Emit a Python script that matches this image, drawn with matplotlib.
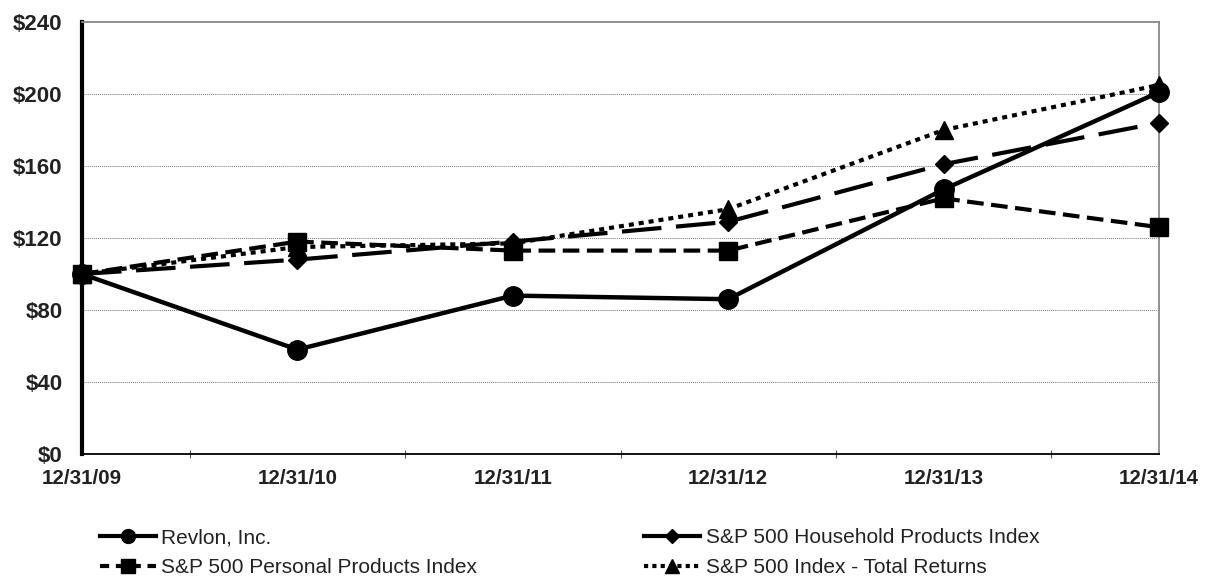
import matplotlib
matplotlib.use("Agg")
import matplotlib.pyplot as plt
from matplotlib.lines import Line2D
from matplotlib.ticker import FixedLocator, FuncFormatter

dates = ["12/31/09", "12/31/10", "12/31/11", "12/31/12", "12/31/13", "12/31/14"]
revlon = [100, 58, 88, 86, 147, 201]
household = [100, 108, 118, 129, 161, 184]
personal = [100, 118, 113, 113, 142, 126]
sp500 = [100, 115, 117, 136, 180, 205]
yticks = [0, 40, 80, 120, 160, 200, 240]

plt.rcParams['font.family'] = ['Liberation Sans', 'DejaVu Sans']

fig = plt.figure(figsize=(12.06, 5.81), dpi=100)
ax = fig.add_axes([82/1206, 127/581, (1159-82)/1206, 432/581])

x = list(range(len(dates)))
ax.plot(x, sp500, color='black', lw=3, linestyle=(0, (1.2, 1.2)),
        marker='^', ms=13, clip_on=False, zorder=3)
ax.plot(x, household, color='black', lw=3, linestyle=(0, (9.5, 3.5)),
        marker='D', ms=9, clip_on=False, zorder=4)
ax.plot(x, revlon, color='black', lw=3.2, linestyle='-',
        marker='o', ms=14, clip_on=False, zorder=5)
ax.plot(x, personal, color='black', lw=3, linestyle=(0, (4, 1.8)),
        marker='s', ms=13, clip_on=False, zorder=6)

ax.set_xlim(0, len(dates) - 1)
ax.set_ylim(yticks[0], yticks[-1])

ax.yaxis.set_major_locator(FixedLocator(yticks))
ax.yaxis.set_major_formatter(FuncFormatter(lambda v, p: f"${int(v)}"))
ax.set_xticks(x)
ax.set_xticklabels(dates)
ax.set_xticks([i + 0.5 for i in range(len(dates) - 1)], minor=True)

for lab in ax.get_xticklabels():
    lab.set_fontweight('bold')
    lab.set_fontsize(14.8)
    lab.set_color('#222222')
for lab in ax.get_yticklabels():
    lab.set_fontweight('bold')
    lab.set_fontsize(16)
    lab.set_color('#222222')

ax.tick_params(axis='y', length=0, pad=14)
ax.tick_params(axis='x', which='major', length=0, pad=11)
ax.tick_params(axis='x', which='minor', direction='inout', length=6, width=0.8, color='#555555')

for yv in yticks[1:-1]:
    ax.axhline(yv, color='#777777', lw=0.7, linestyle=(0, (1, 1)), zorder=1)

ax.spines['left'].set_linewidth(3)
ax.spines['left'].set_color('black')
ax.spines['bottom'].set_linewidth(1.3)
ax.spines['bottom'].set_color('black')
ax.spines['top'].set_linewidth(1.3)
ax.spines['top'].set_color('#888888')
ax.spines['right'].set_linewidth(1.3)
ax.spines['right'].set_color('#888888')
ax.spines['left'].set_zorder(2)

proxies = [
    Line2D([], [], color='black', lw=3, linestyle='-', marker='o', ms=10),
    Line2D([], [], color='black', lw=3, linestyle=(0, (2.2, 1.6)), marker='s', ms=10),
    Line2D([], [], color='black', lw=3, linestyle='-', marker='D', ms=7),
    Line2D([], [], color='black', lw=3, linestyle=(0, (1, 1)), marker='^', ms=10),
]
labels = ['Revlon, Inc.', 'S&P 500 Personal Products Index',
          'S&P 500 Household Products Index', 'S&P 500 Index - Total Returns']
leg = fig.legend(proxies, labels, loc='upper left',
                 bbox_to_anchor=(100/1206, 1 - 528/581), ncol=2, frameon=False,
                 fontsize=15, handlelength=2.7, handletextpad=0.25,
                 columnspacing=8.0, labelspacing=0.52, borderpad=0,
                 borderaxespad=0)
for t in leg.get_texts():
    t.set_color('#222222')

fig.savefig('out.png', dpi=100)
